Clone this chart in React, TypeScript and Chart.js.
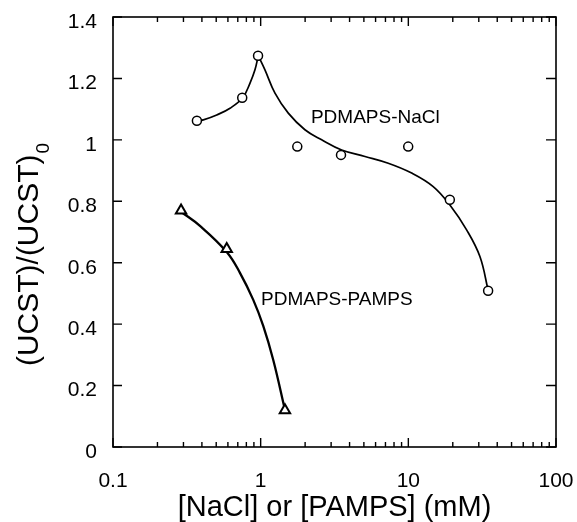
import React, { useEffect, useRef } from 'react';
import { Chart, registerables } from 'chart.js';

Chart.register(...registerables);

const FONT = '"Liberation Sans", Arial, Helvetica, sans-serif';

// Measured points
const naclX = [0.37, 0.75, 0.96, 1.77, 3.5, 9.98, 19.1, 34.7];
const naclY = [1.062, 1.137, 1.274, 0.978, 0.951, 0.978, 0.805, 0.509];
const pampsX = [0.289, 0.589, 1.46];
const pampsY = [0.77, 0.645, 0.12];

// Fitted curves
const naclFitLeftX = [0.374, 0.409, 0.504, 0.62, 0.755, 0.847, 0.915, 0.963];
const naclFitLeftY = [1.062, 1.065, 1.081, 1.103, 1.137, 1.185, 1.228, 1.274];
const naclFitRightX = [0.963, 1.069, 1.25, 1.538, 1.994, 2.588, 3.535, 5.085, 7.31, 10.53, 14.74, 19.12, 24.81, 30.53, 34.75];
const naclFitRightY = [1.274, 1.228, 1.152, 1.087, 1.033, 1.0, 0.967, 0.946, 0.924, 0.892, 0.848, 0.788, 0.707, 0.62, 0.509];
const pampsFitX = [0.2886, 0.388, 0.589, 0.724, 0.891, 1.041, 1.217, 1.46];
const pampsFitY = [0.766, 0.72, 0.635, 0.567, 0.479, 0.394, 0.283, 0.121];

// Axes
const xMajorTicks = [0.1, 1, 10, 100];
const xTickLabels = ['0.1', '1', '10', '100'];
const xMinorMultipliers = [2, 3, 4, 5, 6, 7, 8, 9];
const yTicks = [0, 0.2, 0.4, 0.6, 0.8, 1, 1.2, 1.4];
const yTickLabels = ['0', '0.2', '0.4', '0.6', '0.8', '1', '1.2', '1.4'];

const xTitle = '[NaCl] or [PAMPS] (mM)';
const yTitleMain = '(UCST)/(UCST)';
const yTitleSub = '0';

const annotations = [
  { text: 'PDMAPS-NaCl', x: 2.19, y: 1.072 },
  { text: 'PDMAPS-PAMPS', x: 1.005, y: 0.48 },
];

const toXY = (xs: number[], ys: number[]) => xs.map((x, i) => ({ x, y: ys[i] }));

const zeroPadding = (s: any) => {
  s.paddingTop = 0;
  s.paddingBottom = 0;
  s.paddingLeft = 0;
  s.paddingRight = 0;
};

const framePlugin = {
  id: 'framePlugin',
  afterDraw(chart: any) {
    const { ctx, chartArea: a, scales } = chart;
    const xs = scales.x;
    const ys = scales.y;
    ctx.save();
    ctx.strokeStyle = '#000';
    ctx.lineWidth = 1.6;
    ctx.strokeRect(a.left, a.top, a.right - a.left, a.bottom - a.top);

    ctx.lineWidth = 1.4;
    ctx.beginPath();
    for (const v of yTicks) {
      const py = ys.getPixelForValue(v);
      ctx.moveTo(a.left, py);
      ctx.lineTo(a.left + 9, py);
      ctx.moveTo(a.right, py);
      ctx.lineTo(a.right - 10, py);
    }
    for (let i = 0; i < xMajorTicks.length; i++) {
      const d = xMajorTicks[i];
      const px = xs.getPixelForValue(d);
      ctx.moveTo(px, a.bottom);
      ctx.lineTo(px, a.bottom - 9);
      ctx.moveTo(px, a.top);
      ctx.lineTo(px, a.top + 9);
      if (i < xMajorTicks.length - 1) {
        for (const m of xMinorMultipliers) {
          const pm = xs.getPixelForValue(d * m);
          ctx.moveTo(pm, a.bottom);
          ctx.lineTo(pm, a.bottom - 5);
          ctx.moveTo(pm, a.top);
          ctx.lineTo(pm, a.top + 5);
        }
      }
    }
    ctx.stroke();

    ctx.fillStyle = '#000';
    ctx.font = `19px ${FONT}`;
    ctx.textAlign = 'left';
    ctx.textBaseline = 'middle';
    for (const an of annotations) {
      ctx.fillText(an.text, xs.getPixelForValue(an.x), ys.getPixelForValue(an.y));
    }

    // y-axis title with subscript
    ctx.translate(30, 255);
    ctx.rotate(-Math.PI / 2);
    ctx.font = `30px ${FONT}`;
    const wMain = ctx.measureText(yTitleMain).width;
    ctx.font = `19px ${FONT}`;
    const wSub = ctx.measureText(yTitleSub).width;
    const start = -(wMain + wSub) / 2;
    ctx.font = `30px ${FONT}`;
    ctx.fillText(yTitleMain, start, 0);
    ctx.font = `19px ${FONT}`;
    ctx.fillText(yTitleSub, start + wMain + 1, 14);
    ctx.restore();
  },
};

export default function App() {
  const ref = useRef<HTMLCanvasElement>(null);
  useEffect(() => {
    Chart.defaults.font.family = FONT;
    const chart = new Chart(ref.current as HTMLCanvasElement, {
      type: 'scatter',
      data: {
        datasets: [
          {
            label: 'PDMAPS-NaCl',
            data: toXY(naclX, naclY),
            pointStyle: 'circle',
            pointRadius: 4.5,
            pointBorderWidth: 1.5,
            pointBorderColor: '#000',
            pointBackgroundColor: '#fff',
            showLine: false,
          },
          {
            label: 'PDMAPS-PAMPS',
            data: toXY(pampsX, pampsY),
            pointStyle: 'triangle',
            pointRadius: 6,
            pointBorderWidth: 2,
            pointBorderColor: '#000',
            pointBackgroundColor: '#fff',
            showLine: false,
          },
          {
            label: 'fit NaCl left',
            data: toXY(naclFitLeftX, naclFitLeftY),
            showLine: true,
            borderColor: '#000',
            borderWidth: 1.7,
            pointRadius: 0,
            tension: 0.4,
          },
          {
            label: 'fit NaCl right',
            data: toXY(naclFitRightX, naclFitRightY),
            showLine: true,
            borderColor: '#000',
            borderWidth: 1.7,
            pointRadius: 0,
            tension: 0.4,
          },
          {
            label: 'fit PAMPS',
            data: toXY(pampsFitX, pampsFitY),
            showLine: true,
            borderColor: '#000',
            borderWidth: 2.3,
            pointRadius: 0,
            tension: 0.4,
          },
        ],
      },
      options: {
        responsive: false,
        animation: false,
        layout: { padding: { top: 17, right: 21, left: 0, bottom: 0 } },
        plugins: {
          legend: { display: false },
          tooltip: { enabled: false },
        },
        scales: {
          x: {
            type: 'logarithmic',
            min: 0.1,
            max: 100,
            grid: { display: false },
            border: { display: false },
            afterBuildTicks: (s: any) => {
              s.ticks = xMajorTicks.map((v) => ({ value: v }));
            },
            afterFit: (s: any) => {
              s.height = 75;
              zeroPadding(s);
            },
            ticks: {
              padding: 14,
              color: '#000',
              font: { size: 21, family: FONT },
              maxRotation: 0,
              autoSkip: false,
              callback: (v: any) => {
                const i = xMajorTicks.indexOf(Number(v));
                return i >= 0 ? xTickLabels[i] : '';
              },
            },
            title: {
              display: true,
              text: xTitle,
              color: '#000',
              font: { size: 29, family: FONT, lineHeight: 1 },
              padding: { top: 0, bottom: 0 },
            },
          },
          y: {
            min: 0,
            max: 1.4,
            grid: { display: false },
            border: { display: false },
            afterBuildTicks: (s: any) => {
              s.ticks = yTicks.map((v) => ({ value: v }));
            },
            afterFit: (s: any) => {
              s.width = 113;
              zeroPadding(s);
            },
            ticks: {
              padding: 8,
              labelOffset: 5,
              color: '#000',
              font: { size: 21, family: FONT },
              callback: (v: any) => {
                const i = yTicks.findIndex((t) => Math.abs(t - Number(v)) < 1e-6);
                return i >= 0 ? yTickLabels[i] : '';
              },
            },
          },
        },
      },
      plugins: [framePlugin],
    } as any);
    return () => chart.destroy();
  }, []);
  return (
    <div style={{ position: 'fixed', left: 0, top: 0, width: 577, height: 522, background: '#fff' }}>
      <canvas ref={ref} width={577} height={522} style={{ display: 'block' }} />
    </div>
  );
}
